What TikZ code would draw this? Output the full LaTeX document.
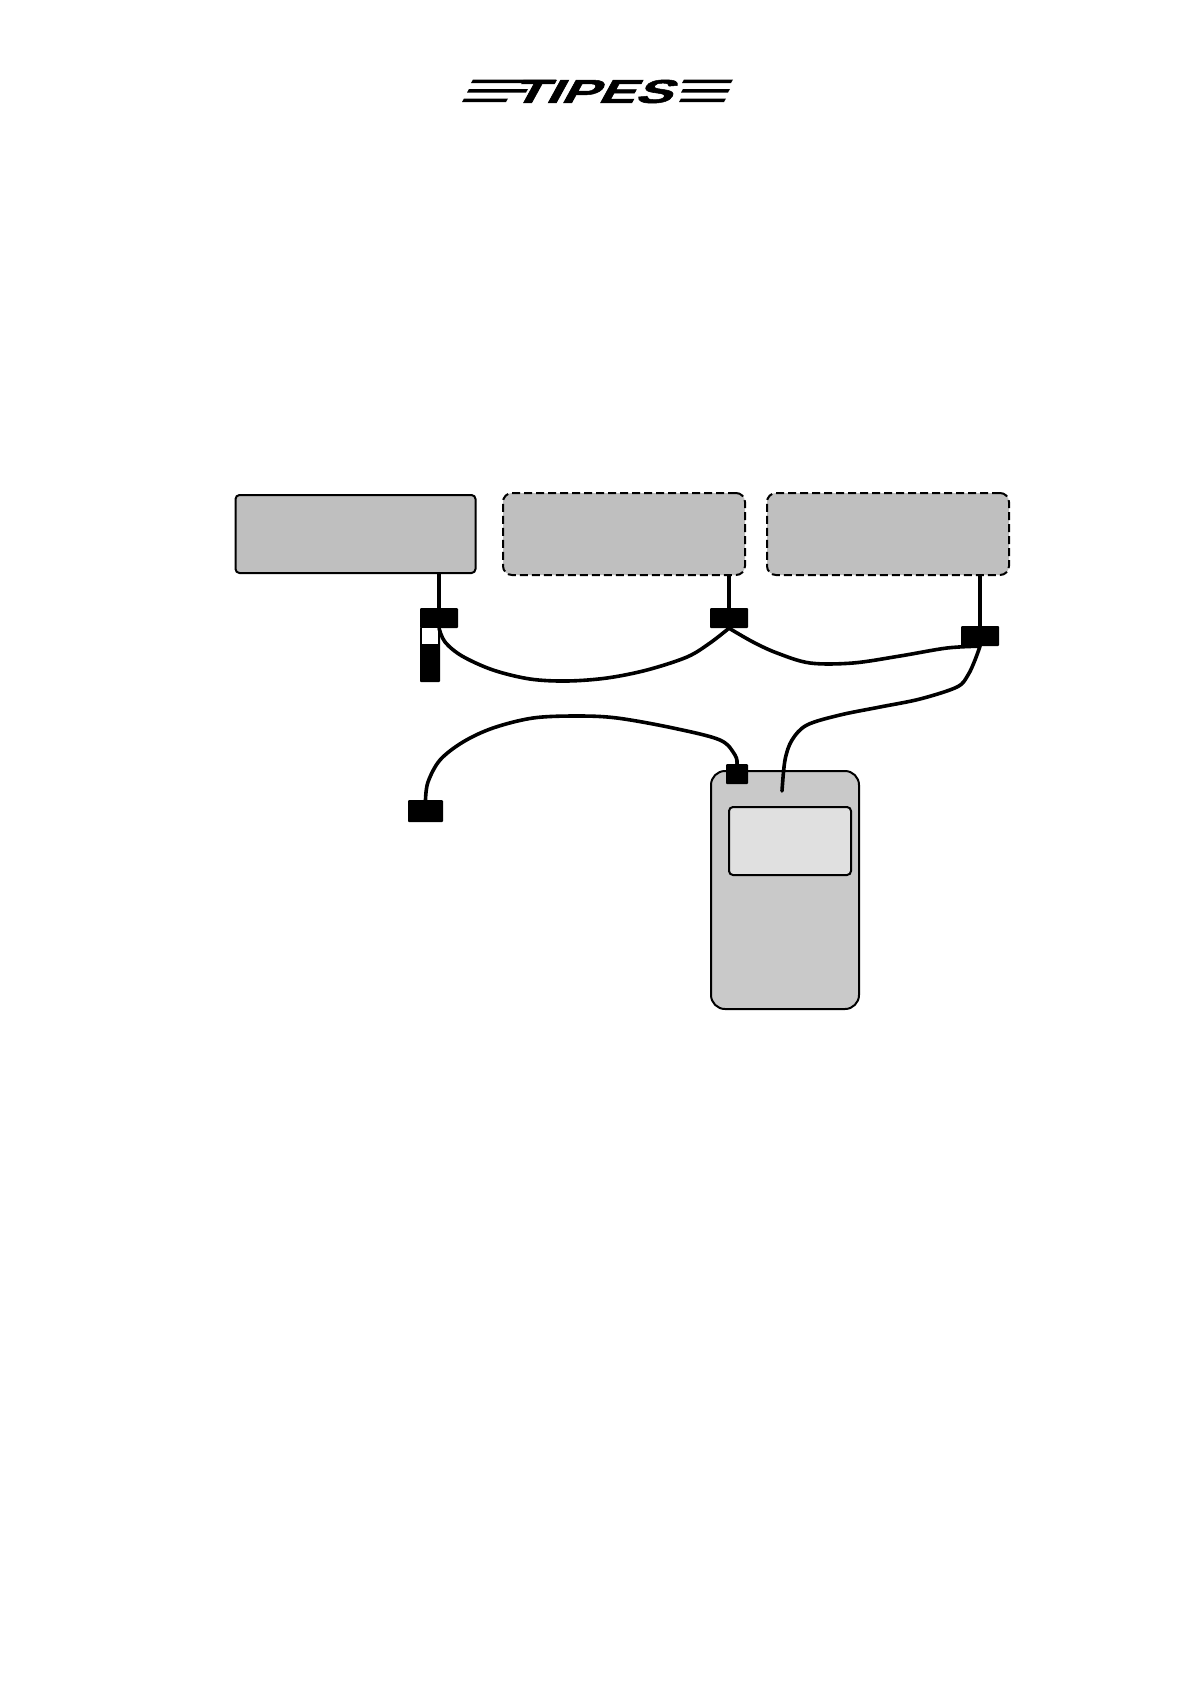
\documentclass[tikz,border=0pt]{standalone}
\usepackage{fontspec}
\setmainfont{Liberation Sans}
\newfontfamily\logofont[BoldFeatures={FakeBold=1.5}]{Liberation Sans}
\definecolor{boxgray}{HTML}{BFBFBF}
\definecolor{bodygray}{HTML}{C9C9C9}
\definecolor{screengray}{HTML}{E0E0E0}

\begin{document}
\begin{tikzpicture}[
    x=1pt, y=-1pt,
    panel/.style={draw=black, fill=boxgray, line width=2pt, rounded corners=4pt, inner sep=0pt},
    dashpanel/.style={panel, rounded corners=9pt, dash pattern=on 8pt off 4pt},
    plug/.style={fill=black, rounded corners=1pt, inner sep=0pt},
    lead/.style={line width=3.5pt},
    cable/.style={line width=3.6pt, line cap=round, line join=round},
    stripe/.style={fill=black}
]
\useasboundingbox (0,0) rectangle (1190,1684);

% Logo
\node[inner sep=0pt, transform shape, xslant=0.55, xscale=1.68] (logo) at (597,91.5)
    {\fontsize{33}{33}\selectfont\logofont\bfseries TIPES};
\fill[stripe] (473,79.5) -- (556,79.5) -- (554,83) -- (471,83) -- cycle;
\fill[stripe] (469,89) -- (528,89) -- (526,92.5) -- (467,92.5) -- cycle;
\fill[stripe] (464,98.5) -- (508,98.5) -- (506,102) -- (462,102) -- cycle;
\fill[stripe] (684,79.5) -- (733,79.5) -- (731,83) -- (682,83) -- cycle;
\fill[stripe] (683,89) -- (730,89) -- (728,92.5) -- (681,92.5) -- cycle;
\fill[stripe] (681,98.5) -- (726,98.5) -- (724,102) -- (679,102) -- cycle;

% Panels
\node[panel, minimum width=240pt, minimum height=78pt] (leftpanel) at (355.5,534) {};
\node[dashpanel, minimum width=242pt, minimum height=82pt] (midpanel) at (624,534) {};
\node[dashpanel, minimum width=242pt, minimum height=82pt] (rightpanel) at (888,534) {};

% Device
\node[panel, fill=bodygray, rounded corners=14pt, minimum width=148pt, minimum height=238pt] (device) at (785,890) {};
\node[panel, fill=screengray, rounded corners=4pt, minimum width=122pt, minimum height=68pt] (screen) at (790,841) {};

% Plugs
\node[plug, minimum width=38pt, minimum height=20pt] (plugleft) at (439,618) {};
\node[plug, minimum width=38pt, minimum height=20pt] (plugmid) at (729,618) {};
\node[plug, minimum width=38pt, minimum height=20pt] (plugright) at (980,636) {};
\node[plug, minimum width=22pt, minimum height=20pt] (plugdevice) at (737,774) {};
\node[plug, minimum width=35pt, minimum height=22pt] (plugfree) at (425.5,811) {};
\node[plug, minimum width=20pt, minimum height=55pt, anchor=north] (strap) at (430,627) {};
\node[fill=white, inner sep=0pt, minimum width=16pt, minimum height=16pt, anchor=north] (window) at (430,628) {};
\coordinate (deviceport) at (782,791);

% Leads from panels
\draw[lead] (plugleft.north) -- (plugleft.north |- leftpanel.south);
\draw[lead] (plugmid.north) -- (plugmid.north |- midpanel.south);
\draw[lead] (plugright.north) -- (plugright.north |- rightpanel.south);

% Cables
\draw[cable] plot[smooth, tension=0.55] coordinates {(plugleft.south) (445,642) (462,656) (493,670) (530,679)
    (567,681) (607,678) (647,670) (687,657) (710,643) (plugmid.south)};
\draw[cable] plot[smooth, tension=0.55] coordinates {(plugmid.south) (753,642) (777,653) (810,663)
    (853,663) (900,656) (947,648) (plugright.south)};
\draw[cable] plot[smooth, tension=0.55] coordinates {(plugright.south) (975,660) (968,675) (957,687) (920,699)
    (880,707) (840,715) (807,725) (792,740) (785,760) (deviceport)};
\draw[cable] plot[smooth, tension=0.55] coordinates {(plugdevice.north) (735,755) (720,740) (673,728)
    (617,718) (577,716) (533,718) (493,728) (463,742) (440,760) (428,782) (plugfree.north)};

\end{tikzpicture}
\end{document}
